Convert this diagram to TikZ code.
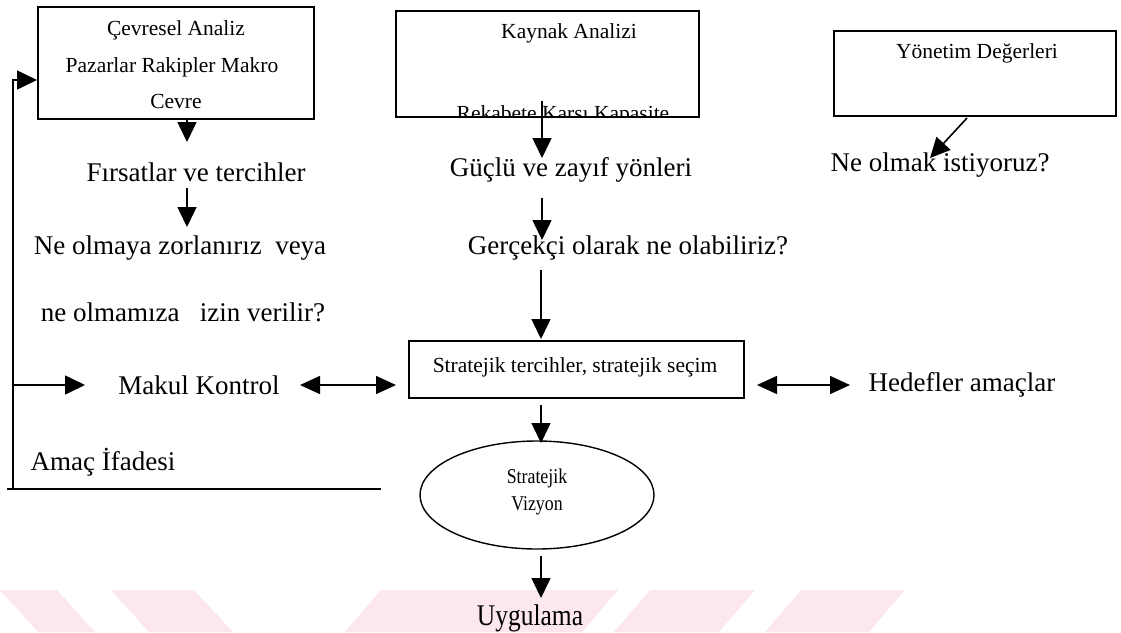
\documentclass[tikz,border=0pt]{standalone}
\usepackage{fontspec}
\setmainfont{Liberation Serif}
\newfontfamily\condfont{Liberation Serif}[FakeStretch=0.85]
\usetikzlibrary{arrows.meta,shapes.geometric}
\definecolor{wm}{RGB}{252,231,236}
\tikzset{
  boxstyle/.style={draw, line width=1.6pt, inner sep=0pt, anchor=north west},
  big/.style={font=\fontsize{27}{30}\selectfont, inner sep=0pt},
  small/.style={font=\fontsize{21.5}{24}\selectfont, inner sep=0pt},
  arr/.style={line width=1.6pt, -{Triangle[length=20pt,width=19pt]}},
  darr/.style={line width=1.6pt, {Triangle[length=20pt,width=18pt]}-{Triangle[length=20pt,width=18pt]}},
}
\begin{document}
\begin{tikzpicture}[x=1pt,y=-1pt]
\useasboundingbox (0,0) rectangle (1121,632);
% watermark stripes
\fill[wm] (0,590) -- (57,590) -- (95,632) -- (38,632) -- cycle;
\fill[wm] (111,590) -- (194,590) -- (233,632) -- (149,632) -- cycle;
\fill[wm] (381,590) -- (618,590) -- (582,632) -- (345,632) -- cycle;
\fill[wm] (650,590) -- (755,590) -- (719,632) -- (614,632) -- cycle;
\fill[wm] (801,590) -- (905,590) -- (869,632) -- (765,632) -- cycle;

% boxes
\node[boxstyle, minimum width=276pt, minimum height=112pt] (env) at (37,6) {};
\node[boxstyle, minimum width=303pt, minimum height=106pt] (res) at (395,10) {};
\node[boxstyle, minimum width=282pt, minimum height=85pt] (val) at (833,30) {};
\node[boxstyle, minimum width=335pt, minimum height=57pt] (strat) at (408,340) {};
\node[draw, ellipse, line width=1.4pt, minimum width=234pt, minimum height=108pt, inner sep=0pt] (vis) at (537,495) {};

% box texts
\node[small] (envt1) at (176,30) {Çevresel Analiz};
\node[small] (envt2) at (172,67) {Pazarlar Rakipler Makro};
\node[small] (envt3) at (176,101) {Cevre};
\node[small] (rest1) at (569,33) {Kaynak Analizi};
\begin{scope}
  \clip (396,11) rectangle (697,115);
  \node[small, anchor=base] (rest2) at (563,120) {Rekabete Karşı Kapasite};
\end{scope}
\node[small] (valt) at (977,53) {Yönetim Değerleri};
\node[small] (stratt) at (575,367) {Stratejik tercihler, stratejik seçim};
\node[font=\condfont\fontsize{21}{27}\selectfont, align=center, inner sep=0pt] (vist) at (537,492) {Stratejik\\Vizyon};

% free texts
\node[big] (firs) at (196,172) {Fırsatlar ve tercihler};
\node[big] (zor) at (180,248) {Ne olmaya zorlanırız\ \ veya};
\node[big] (izin) at (183,312) {ne olmamıza\ \ \ izin verilir?};
\node[big] (guc) at (571,170) {Güçlü ve zayıf yönleri};
\node[big] (ger) at (628,248) {Gerçekçi olarak ne olabiliriz?};
\node[big] (ne) at (940,165) {Ne olmak istiyoruz?};
\node[big] (makul) at (199,385) {Makul Kontrol};
\node[big] (hedef) at (962,385) {Hedefler amaçlar};
\node[big] (amac) at (103,462) {Amaç İfadesi};
\node[font=\condfont\fontsize{30}{32}\selectfont, inner sep=0pt] (uyg) at (530,618) {Uygulama};

% coordinates
\coordinate (fbtop) at (13,80);
\coordinate (fbbot) at (13,489);
\coordinate (lineL) at (7,489);
\coordinate (lineR) at (381,489);
\coordinate (mkL) at (13,385);
\coordinate (mkR) at (85,385);
\coordinate (dlA) at (300,385);
\coordinate (dlB) at (396,385);
\coordinate (drA) at (757,385);
\coordinate (drB) at (850,385);
\coordinate (a1s) at (187,118);
\coordinate (a1e) at (187,142);
\coordinate (a2s) at (187,188);
\coordinate (a2e) at (187,227);
\coordinate (b1s) at (542,101);
\coordinate (b1e) at (542,158);
\coordinate (b2s) at (542,198);
\coordinate (b2e) at (542,240);
\coordinate (b3s) at (541,270);
\coordinate (b3e) at (541,339);
\coordinate (c1s) at (967,118);
\coordinate (c1e) at (930,158);
\coordinate (v1s) at (541,405);
\coordinate (v1e) at (541,443);
\coordinate (u1s) at (541,556);
\coordinate (u1e) at (541,598);

% connectors
\draw[line width=1.6pt] (lineL) -- (lineR);
\draw[arr] (fbbot) -- (fbtop) -- (fbtop -| env.west);
\draw[arr] (mkL) -- (mkR);
\draw[darr] (dlA) -- (dlB);
\draw[darr] (drA) -- (drB);
\draw[arr] (a1s) -- (a1e);
\draw[arr] (a2s) -- (a2e);
\draw[arr] (b1s) -- (b1e);
\draw[arr] (b2s) -- (b2e);
\draw[arr] (b3s) -- (b3e);
\draw[arr] (c1s) -- (c1e);
\draw[arr] (v1s) -- (v1e);
\draw[arr] (u1s) -- (u1e);
\end{tikzpicture}
\end{document}
